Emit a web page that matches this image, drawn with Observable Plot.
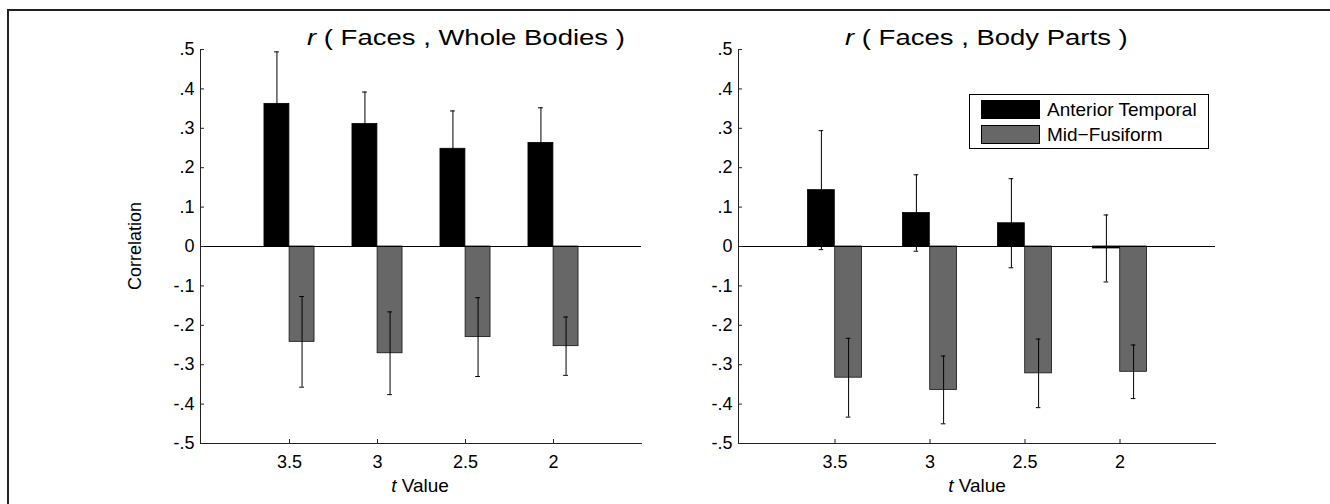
<!DOCTYPE html>
<html>
<head>
<meta charset="utf-8">
<script src="https://cdn.jsdelivr.net/npm/d3@7"></script>
<script src="https://cdn.jsdelivr.net/npm/@observablehq/plot@0.6"></script>
<style>
  html, body { margin: 0; padding: 0; background: #fff; }
  #root { position: relative; width: 1330px; height: 504px; overflow: hidden; font-family: "Liberation Sans", Arial, sans-serif; color: #000; }
  .border { position: absolute; left: 7px; top: 9px; width: 1330px; height: 504px; border-top: 2px solid #231f20; border-left: 2px solid #231f20; box-sizing: border-box; }
  .panel { position: absolute; top: 0; }
  .panel svg text { font-size: 18px !important; fill: #000; }
  .title { position: absolute; font-size: 22px; line-height: 22px; white-space: pre; transform-origin: 0 0; transform: scaleX(1.25); }
  .xlabel { position: absolute; font-size: 19px; line-height: 19px; white-space: pre; transform: translateX(-50%); }
  .ylabel { position: absolute; font-size: 18px; line-height: 18px; white-space: pre; transform: translate(-50%, -50%) rotate(-90deg); }
  .legend { position: absolute; left: 969px; top: 94px; width: 240px; height: 55px; box-sizing: border-box; border: 1px solid #000; background: #fff; }
  .legend .row { position: absolute; left: 11px; height: 19px; display: flex; align-items: center; }
  .legend .sw { width: 59px; height: 19px; box-sizing: border-box; border: 1px solid #000; margin-right: 7px; }
  .legend .lab { font-size: 19px; line-height: 19px; white-space: pre; }
</style>
</head>
<body>
<div id="root"><div class="border"></div></div>
<script>
// ---- data ----
const categories = ["3.5", "3", "2.5", "2"];
const seriesNames = ["Anterior Temporal", "Mid\u2212Fusiform"];
const seriesColors = ["#000000", "#676767"];
const yTicks = [-0.5, -0.4, -0.3, -0.2, -0.1, 0, 0.1, 0.2, 0.3, 0.4, 0.5];

// r(Faces, Whole Bodies)
const wholeAT = [0.362, 0.311, 0.248, 0.263];
const wholeATerr = [0.132, 0.081, 0.096, 0.089];
const wholeMF = [-0.242, -0.271, -0.230, -0.253];
const wholeMFerr = [0.115, 0.105, 0.100, 0.074];

// r(Faces, Body Parts)
const partsAT = [0.143, 0.085, 0.059, -0.005];
const partsATerr = [0.151, 0.097, 0.113, 0.085];
const partsMF = [-0.333, -0.364, -0.322, -0.318];
const partsMFerr = [0.100, 0.086, 0.087, 0.068];

const titles = ["Faces , Whole Bodies", "Faces , Body Parts"];
const yLabel = "Correlation";
const xLabel = "Value";

// ---- drawing ----
const W = 665, H = 504;
const fmt = d => d === 0 ? "0" : (d < 0 ? "-" : "") + "." + Math.round(Math.abs(d) * 10);

function panel({at, atErr, mf, mfErr, mL, mR}) {
  const step = (W - mL - mR) / 5;
  const bw = 0.285 * step;
  const cap = 2.5;
  const rows = categories.map((c, i) => ({cat: c, at: at[i], atErr: atErr[i], mf: mf[i], mfErr: mfErr[i]}));
  return Plot.plot({
    width: W, height: H,
    marginLeft: mL, marginRight: mR, marginTop: 49, marginBottom: 61,
    style: {fontFamily: "'Liberation Sans', Arial, sans-serif", fontSize: "18px", background: "transparent", color: "#000", overflow: "visible"},
    x: {type: "band", domain: categories, paddingInner: 0, paddingOuter: 0.5},
    y: {domain: [-0.5, 0.5]},
    marks: [
      Plot.barY(rows, {x: "cat", y1: 0, y2: "at", fill: seriesColors[0], stroke: "#000", strokeWidth: 0.8, insetLeft: step / 2 - bw, insetRight: step / 2}),
      Plot.barY(rows, {x: "cat", y1: 0, y2: "mf", fill: seriesColors[1], stroke: "#111", strokeWidth: 0.8, insetLeft: step / 2, insetRight: step / 2 - bw}),
      Plot.ruleY([0], {stroke: "#000", strokeWidth: 1}),
      // error bars
      Plot.ruleX(rows, {x: "cat", y1: d => d.at - d.atErr, y2: d => d.at + d.atErr, dx: -bw / 2, stroke: "#000", strokeWidth: 1}),
      Plot.tickY(rows, {x: "cat", y: d => d.at + d.atErr, insetLeft: step / 2 - bw / 2 - cap, insetRight: step / 2 + bw / 2 - cap, stroke: "#000"}),
      Plot.tickY(rows, {x: "cat", y: d => d.at - d.atErr, insetLeft: step / 2 - bw / 2 - cap, insetRight: step / 2 + bw / 2 - cap, stroke: "#000"}),
      Plot.ruleX(rows, {x: "cat", y1: d => d.mf - d.mfErr, y2: d => d.mf + d.mfErr, dx: bw / 2, stroke: "#000", strokeWidth: 1}),
      Plot.tickY(rows, {x: "cat", y: d => d.mf + d.mfErr, insetLeft: step / 2 + bw / 2 - cap, insetRight: step / 2 - bw / 2 - cap, stroke: "#000"}),
      Plot.tickY(rows, {x: "cat", y: d => d.mf - d.mfErr, insetLeft: step / 2 + bw / 2 - cap, insetRight: step / 2 - bw / 2 - cap, stroke: "#000"}),
      // axes
      Plot.frame({anchor: "left", stroke: "#222"}),
      Plot.frame({anchor: "bottom", stroke: "#222"}),
      Plot.axisY({ticks: yTicks, tickFormat: fmt, tickSize: -4, tickPadding: 10, stroke: "#222", label: null, fontSize: 18}),
      Plot.axisX({tickSize: -4, tickPadding: 16, label: null, stroke: "#222", fontSize: 18})
    ]
  });
}

const root = document.getElementById("root");
const configs = [
  {left: 0, at: wholeAT, atErr: wholeATerr, mf: wholeMF, mfErr: wholeMFerr, mL: 200, mR: 24, titleX: 307, labelX: 420},
  {left: 665, at: partsAT, atErr: partsATerr, mf: partsMF, mfErr: partsMFerr, mL: 73, mR: 115, titleX: 845, labelX: 977}
];
configs.forEach((cfg, k) => {
  const wrap = document.createElement("div");
  wrap.className = "panel";
  wrap.style.left = cfg.left + "px";
  wrap.appendChild(panel(cfg));
  root.appendChild(wrap);

  const t = document.createElement("div");
  t.className = "title";
  t.style.left = cfg.titleX + "px";
  t.style.top = "27px";
  t.innerHTML = "<i>r</i> ( " + titles[k] + " )";
  root.appendChild(t);

  const xl = document.createElement("div");
  xl.className = "xlabel";
  xl.style.left = cfg.labelX + "px";
  xl.style.top = "476px";
  xl.innerHTML = "<i>t</i> " + xLabel;
  root.appendChild(xl);
});

// y label (left panel only)
const yl = document.createElement("div");
yl.className = "ylabel";
yl.style.left = "135px";
yl.style.top = "246px";
yl.textContent = yLabel;
root.appendChild(yl);

// legend
const lg = document.createElement("div");
lg.className = "legend";
seriesNames.forEach((name, i) => {
  const row = document.createElement("div");
  row.className = "row";
  row.style.top = (i === 0 ? 5 : 30) + "px";
  const sw = document.createElement("div");
  sw.className = "sw";
  sw.style.background = seriesColors[i];
  const lab = document.createElement("span");
  lab.className = "lab";
  lab.textContent = name;
  row.appendChild(sw);
  row.appendChild(lab);
  lg.appendChild(row);
});
root.appendChild(lg);
</script>
</body>
</html>
